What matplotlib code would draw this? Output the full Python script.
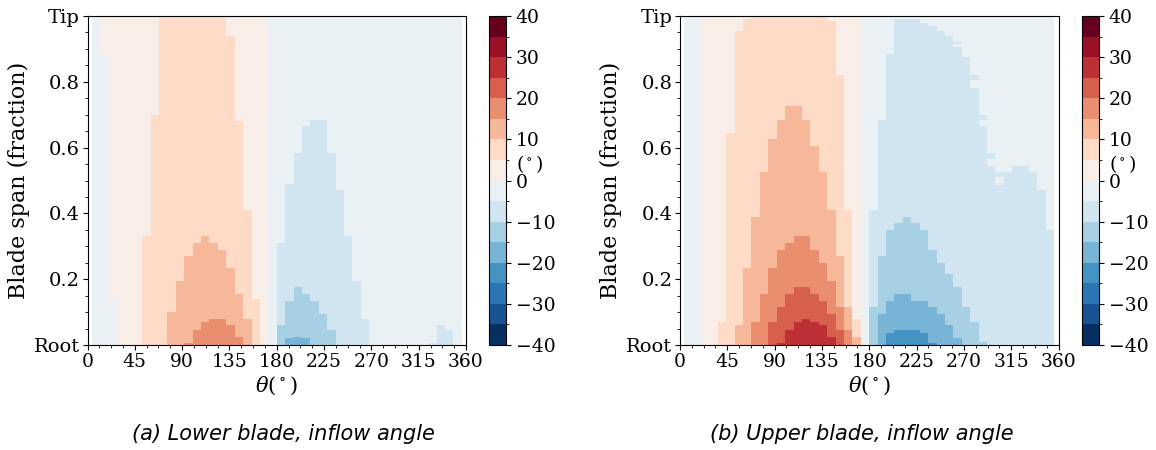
import numpy as np
import matplotlib
matplotlib.use('Agg')
import matplotlib.pyplot as plt
from matplotlib.colors import BoundaryNorm
from matplotlib.ticker import AutoMinorLocator

plt.rcParams['font.family'] = 'DejaVu Serif'
plt.rcParams['mathtext.fontset'] = 'dejavuserif'

# Azimuth bins (deg): 44 columns, 8 deg wide, from 4 to 356
theta_edges = np.arange(4, 357, 8)
theta_centres = theta_edges[:-1] + 4
# Span rows used to paint the read-off contour heights
span_edges = np.linspace(0, 1, 201)
levels = np.arange(-40, 45, 5)

# Heights (span fraction), one value per theta column.
# *_zero : below this height the inflow angle is negative
# *_posN : below this height angle >= N deg   (positive columns)
# *_negN : below this height angle <= -N deg  (negative columns)

# ---- (a) lower blade ----
lower_zero = [1, .88, .14, 0, 0, 0, 0, 0, 0, 0, 0,
              0, 0, 0, 0, 0, 0, 0, 0, 0, 0, 1,
              1, 1, 1, 1, 1, 1, 1, 1, 1, 1, 1,
              1, 1, 1, 1, 1, 1, 1, 1, 1, 1, 1]
lower_pos5 = [0, 0, 0, 0, 0, 0, .33, .70, 1, 1, 1,
              1, 1, 1, 1, 1, .94, .68, .41, .14, 0, 0,
              0, 0, 0, 0, 0, 0, 0, 0, 0, 0, 0,
              0, 0, 0, 0, 0, 0, 0, 0, 0, 0, 0]
lower_pos10 = [0, 0, 0, 0, 0, 0, 0, 0, 0, .10, .195,
               .27, .31, .33, .31, .29, .235, .155, .08, 0, 0, 0,
               0, 0, 0, 0, 0, 0, 0, 0, 0, 0, 0,
               0, 0, 0, 0, 0, 0, 0, 0, 0, 0, 0]
lower_pos15 = [0, 0, 0, 0, 0, 0, 0, 0, 0, 0, 0,
               .007, .046, .07, .082, .082, .058, .024, 0, 0, 0, 0,
               0, 0, 0, 0, 0, 0, 0, 0, 0, 0, 0,
               0, 0, 0, 0, 0, 0, 0, 0, 0, 0, 0]
lower_neg5 = [0, 0, 0, 0, 0, 0, 0, 0, 0, 0, 0,
              0, 0, 0, 0, 0, 0, 0, 0, 0, 0, 0,
              .31, .49, .587, .666, .684, .684, .587, .47, .331, .195, .081,
              0, 0, 0, 0, 0, 0, 0, .007, .058, .046, 0]
lower_neg10 = [0, 0, 0, 0, 0, 0, 0, 0, 0, 0, 0,
               0, 0, 0, 0, 0, 0, 0, 0, 0, 0, 0,
               .058, .137, .176, .155, .137, .097, .046, 0, 0, 0, 0,
               0, 0, 0, 0, 0, 0, 0, 0, 0, 0, 0]
lower_neg15 = [0, 0, 0, 0, 0, 0, 0, 0, 0, 0, 0,
               0, 0, 0, 0, 0, 0, 0, 0, 0, 0, 0,
               0, .018, .024, .018, 0, 0, 0, 0, 0, 0, 0,
               0, 0, 0, 0, 0, 0, 0, 0, 0, 0, 0]

# ---- (b) upper blade ----
upper_zero = [1, 1, 0, 0, 0, 0, 0, 0, 0, 0, 0,
              0, 0, 0, 0, 0, 0, 0, 0, 0, 0, 1,
              1, 1, 1, 1, 1, 1, 1, 1, 1, 1, 1,
              1, 1, 1, 1, 1, 1, 1, 1, 1, 1, 1]
upper_pos5 = [0, 0, 0, 0, .07, .643, .957, .991, 1, 1, 1,
              1, 1, 1, 1, 1, 1, .985, .821, .41, .079, 0,
              0, 0, 0, 0, 0, 0, 0, 0, 0, 0, 0,
              0, 0, 0, 0, 0, 0, 0, 0, 0, 0, 0]
upper_pos10 = [0, 0, 0, 0, 0, 0, .058, .235, .388, .525, .626,
               .684, .723, .723, .684, .605, .525, .41, .271, .117, .025, 0,
               0, 0, 0, 0, 0, 0, 0, 0, 0, 0, 0,
               0, 0, 0, 0, 0, 0, 0, 0, 0, 0, 0]
upper_pos15 = [0, 0, 0, 0, 0, 0, 0, 0, .07, .155, .235,
               .292, .31, .331, .331, .292, .252, .195, .117, .046, 0, 0,
               0, 0, 0, 0, 0, 0, 0, 0, 0, 0, 0,
               0, 0, 0, 0, 0, 0, 0, 0, 0, 0, 0]
upper_pos20 = [0, 0, 0, 0, 0, 0, 0, 0, 0, 0, .07,
               .115, .155, .173, .173, .155, .134, .094, .046, 0, 0, 0,
               0, 0, 0, 0, 0, 0, 0, 0, 0, 0, 0,
               0, 0, 0, 0, 0, 0, 0, 0, 0, 0, 0]
upper_pos25 = [0, 0, 0, 0, 0, 0, 0, 0, 0, 0, 0,
               .007, .046, .07, .079, .07, .058, .025, 0, 0, 0, 0,
               0, 0, 0, 0, 0, 0, 0, 0, 0, 0, 0,
               0, 0, 0, 0, 0, 0, 0, 0, 0, 0, 0]
upper_neg5 = [0, 0, 0, 0, 0, 0, 0, 0, 0, 0, 0,
              0, 0, 0, 0, 0, 0, 0, 0, 0, 0, 0,
              .41, .684, .885, .991, .991, .988, .982, .97, .957, .942, .92,
              .875, .821, .702, .587, .526, .526, .547, .547, .526, .468, .35]
upper_neg10 = [0, 0, 0, 0, 0, 0, 0, 0, 0, 0, 0,
               0, 0, 0, 0, 0, 0, 0, 0, 0, 0, 0,
               .115, .271, .35, .37, .39, .37, .35, .292, .252, .213, .173,
               .115, .07, .012, 0, 0, 0, 0, 0, 0, 0, 0]
upper_neg15 = [0, 0, 0, 0, 0, 0, 0, 0, 0, 0, 0,
               0, 0, 0, 0, 0, 0, 0, 0, 0, 0, 0,
               0, .094, .134, .155, .155, .134, .134, .115, .094, .058, .018,
               0, 0, 0, 0, 0, 0, 0, 0, 0, 0, 0]
upper_neg20 = [0, 0, 0, 0, 0, 0, 0, 0, 0, 0, 0,
               0, 0, 0, 0, 0, 0, 0, 0, 0, 0, 0,
               0, 0, .033, .046, .046, .046, .033, .006, 0, 0, 0,
               0, 0, 0, 0, 0, 0, 0, 0, 0, 0, 0]
# thin lighter strips inside the -5 deg region: (theta centre, from, to)
upper_gaps = [(264, .907, .913), (280, .781, .803), (288, .664, .684),
              (296, .547, .566), (304, .487, .509)]


def build_field(zero, pos, neg, gaps=()):
    span_c = (span_edges[:-1] + span_edges[1:]) / 2
    field = np.zeros((len(span_c), len(theta_centres)))
    for i in range(len(theta_centres)):
        for j, y in enumerate(span_c):
            if y < zero[i]:
                b = -1
                for k, h in enumerate(neg):
                    if y < h[i]:
                        b = -2 - k
            else:
                b = 0
                for k, h in enumerate(pos):
                    if y < h[i]:
                        b = 1 + k
            field[j, i] = 5 * b + 2.5
    for th, lo, hi in gaps:
        i = list(theta_centres).index(th)
        field[(span_c >= lo) & (span_c < hi), i] = -2.5
    return field


lower = build_field(lower_zero, [lower_pos5, lower_pos10, lower_pos15],
                    [lower_neg5, lower_neg10, lower_neg15])
upper = build_field(upper_zero,
                    [upper_pos5, upper_pos10, upper_pos15, upper_pos20, upper_pos25],
                    [upper_neg5, upper_neg10, upper_neg15, upper_neg20],
                    upper_gaps)

cmap = plt.get_cmap('RdBu_r')
norm = BoundaryNorm(levels, ncolors=cmap.N)

fig = plt.figure(figsize=(11.56, 4.5), dpi=100)
W, H = 1156, 450

panels = [
    (lower, 87.5, 489, '(a) Lower blade, inflow angle', 283),
    (upper, 680, 1082, '(b) Upper blade, inflow angle', 862),
]
for field, ax_x, cb_x, caption, cap_x in panels:
    ax = fig.add_axes([ax_x / W, 105 / H, 378.5 / W, 329 / H])
    mesh = ax.pcolormesh(theta_edges, span_edges, field, cmap=cmap, norm=norm,
                         shading='flat', antialiased=False, linewidth=0)
    ax.set_xlim(0, 360)
    ax.set_ylim(0, 1)
    ax.set_xticks(range(0, 361, 45))
    ax.set_yticks([0, 0.2, 0.4, 0.6, 0.8, 1.0])
    ax.set_yticklabels(['Root', '0.2', '0.4', '0.6', '0.8', 'Tip'])
    ax.xaxis.set_minor_locator(AutoMinorLocator(4))
    ax.yaxis.set_minor_locator(AutoMinorLocator(4))
    ax.tick_params(axis='x', labelsize=13.5, pad=2)
    ax.tick_params(axis='y', labelsize=14, pad=2)
    ax.set_xlabel(r'$\theta(^\circ)$', fontsize=15, labelpad=3)
    ax.set_ylabel('Blade span (fraction)', fontsize=16, labelpad=3)

    cax = fig.add_axes([cb_x / W, 105 / H, 17 / W, 329 / H])
    cb = fig.colorbar(mesh, cax=cax, ticks=range(-40, 41, 10))
    cb.ax.tick_params(labelsize=13.5)
    cb.ax.text(1.6, 4, r'$(^\circ)$', fontsize=13.5, va='center', ha='left',
               transform=cb.ax.get_yaxis_transform())

    fig.text(cap_x / W, 1 - 434 / H, caption, ha='center', va='center',
             fontsize=15, style='oblique', family='DejaVu Sans')

fig.savefig('out.png', dpi=100)
